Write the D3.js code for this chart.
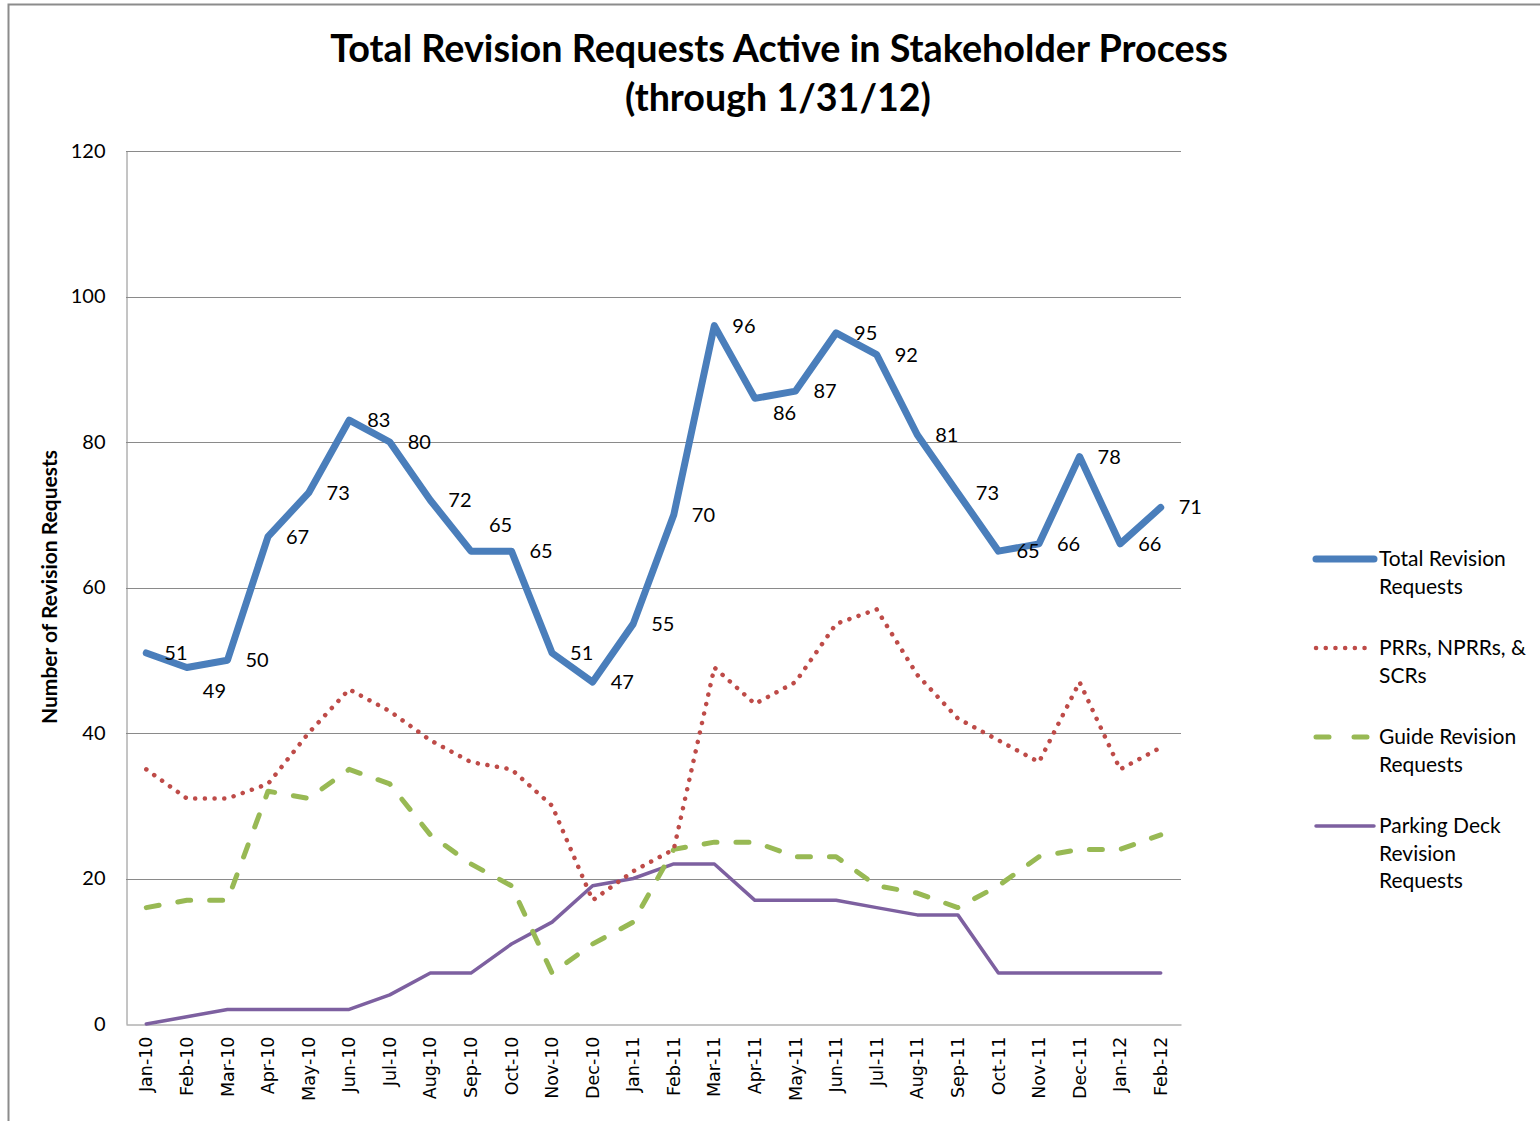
<!DOCTYPE html>
<html><head><meta charset="utf-8">
<script src="https://cdn.jsdelivr.net/npm/d3@7"></script>
<style>body{margin:0;background:#fff;} svg{display:block;}</style>
</head><body>
<script>
const months = ["Jan-10","Feb-10","Mar-10","Apr-10","May-10","Jun-10","Jul-10","Aug-10","Sep-10","Oct-10","Nov-10","Dec-10",
  "Jan-11","Feb-11","Mar-11","Apr-11","May-11","Jun-11","Jul-11","Aug-11","Sep-11","Oct-11","Nov-11","Dec-11","Jan-12","Feb-12"];
const totalRequests = [51,49,50,67,73,83,80,72,65,65,51,47,55,70,96,86,87,95,92,81,73,65,66,78,66,71];
const prrRequests   = [35,31,31,33,40,46,43,39,36,35,30,17,21,24,49,44,47,55,57,48,42,39,36,47,35,38];
const guideRequests = [16,17,17,32,31,35,33,26,22,19,7,11,14,24,25,25,23,23,19,18,16,19,23,24,24,26];
const parkingRequests = [0,1,2,2,2,2,4,7,7,11,14,19,20,22,22,17,17,17,16,15,15,7,7,7,7,7];
const yTicks = [0,20,40,60,80,100,120];
const seriesNames = [["Total Revision","Requests"],["PRRs, NPRRs, &","SCRs"],["Guide Revision","Requests"],["Parking Deck","Revision","Requests"]];

const W = 1540, H = 1121;
const svg = d3.select("body").append("svg").attr("width", W).attr("height", H);
const calibri = "Lato, 'Open Sans', sans-serif";

// outer frame
svg.append("rect").attr("x", 8.5).attr("y", 4.5).attr("width", W + 10).attr("height", H + 10)
  .attr("fill", "none").attr("stroke", "#8c8c8c").attr("stroke-width", 2);

const L = 126, R = 1181, T = 151, B = 1024;
const x = d3.scaleBand().domain(months).range([L, R]);
const y = d3.scaleLinear().domain([0, 120]).range([B, T]);
const cx = m => x(m) + x.bandwidth() / 2;

// gridlines
svg.append("g").selectAll("line").data(yTicks.filter(t => t > 0)).join("line")
  .attr("x1", L).attr("x2", R).attr("y1", d => Math.round(y(d)) + 0.5).attr("y2", d => Math.round(y(d)) + 0.5)
  .attr("stroke", "#8a8a8a").attr("stroke-width", 1);

// y axis
const yAxis = svg.append("g").attr("transform", `translate(${L + 0.5},0)`)
  .call(d3.axisLeft(y).tickValues(yTicks).tickSize(0).tickPadding(21));
yAxis.select(".domain").attr("stroke", "#8a8a8a");
yAxis.selectAll("text").attr("font-family", calibri).attr("font-size", 20).attr("fill", "#000");

// x axis
const xAxis = svg.append("g").attr("transform", `translate(0,${B + 0.5})`)
  .call(d3.axisBottom(x).tickSize(0).tickPadding(0));
xAxis.select(".domain").attr("stroke", "#8a8a8a");
xAxis.selectAll("text")
  .attr("font-family", "'DejaVu Sans', Verdana, sans-serif").attr("font-size", 17.5).attr("fill", "#000")
  .attr("transform", "rotate(-90)").attr("text-anchor", "end").attr("dy", "0.35em").attr("dx", "-12").attr("y", 0).attr("x", 0);

// y axis title
const yt = svg.append("text").attr("transform", `translate(57,587) rotate(-90)`).attr("text-anchor", "middle")
  .attr("font-family", calibri).attr("font-weight", "bold").attr("font-size", 20).text("Number of Revision Requests");
{ const cur = yt.node().getComputedTextLength(); yt.attr("font-size", 20 * 274 / cur); }

// title
const t1 = svg.append("text").attr("x", 779).attr("y", 62).attr("text-anchor", "middle")
  .attr("font-family", calibri).attr("font-weight", "bold").attr("font-size", 35)
  .text("Total Revision Requests Active in Stakeholder Process");
const t2 = svg.append("text").attr("x", 778).attr("y", 111).attr("text-anchor", "middle")
  .attr("font-family", calibri).attr("font-weight", "bold").attr("font-size", 35)
  .text("(through 1/31/12)");
[[t1, 898], [t2, 306]].forEach(([t, w]) => {
  const cur = t.node().getComputedTextLength();
  t.attr("font-size", 35 * w / cur);
});

const line = d3.line().x((d, i) => cx(months[i])).y(d => y(d));
const styles = [
  {data: totalRequests, color: "#4A7EBB", width: 7, dash: null, cap: "round"},
  {data: prrRequests, color: "#BE4B48", width: 4.5, dash: "0.1 9.6", cap: "round"},
  {data: guideRequests, color: "#98B954", width: 5, dash: "13 19", cap: "round"},
  {data: parkingRequests, color: "#7D60A0", width: 3.5, dash: null, cap: "round"}
];
styles.slice().reverse().forEach(s => {
  svg.append("path").datum(s.data).attr("d", line).attr("fill", "none")
    .attr("stroke", s.color).attr("stroke-width", s.width).attr("stroke-linejoin", "round")
    .attr("stroke-linecap", s.cap).attr("stroke-dasharray", s.dash);
});

// data labels (right of point, a few nudged)
const nudge = {1: [-2, 23], 8: [0, -26], 15: [0, 15]};
svg.append("g").selectAll("text").data(totalRequests).join("text")
  .attr("x", (d, i) => cx(months[i]) + 18 + (nudge[i] ? nudge[i][0] : 0))
  .attr("y", (d, i) => y(d) + (nudge[i] ? nudge[i][1] : 0))
  .attr("dy", "0.35em").attr("font-family", calibri).attr("font-size", 20).attr("fill", "#000")
  .text(d => d);

// legend
const lg = svg.append("g");
const legY = [559, 648, 737, 826];
styles.forEach((s, i) => {
  lg.append("line").attr("x1", 1316).attr("x2", 1374).attr("y1", legY[i]).attr("y2", legY[i])
    .attr("stroke", s.color).attr("stroke-width", s.width).attr("stroke-linecap", s.cap)
    .attr("stroke-dasharray", i === 2 ? "13 25" : s.dash);
  seriesNames[i].forEach((tx, j) => {
    lg.append("text").attr("x", 1379).attr("y", legY[i] + j * 27.5).attr("dy", "0.35em")
      .attr("font-family", calibri).attr("font-size", 21).attr("fill", "#000").text(tx);
  });
});
</script>
</body></html>
